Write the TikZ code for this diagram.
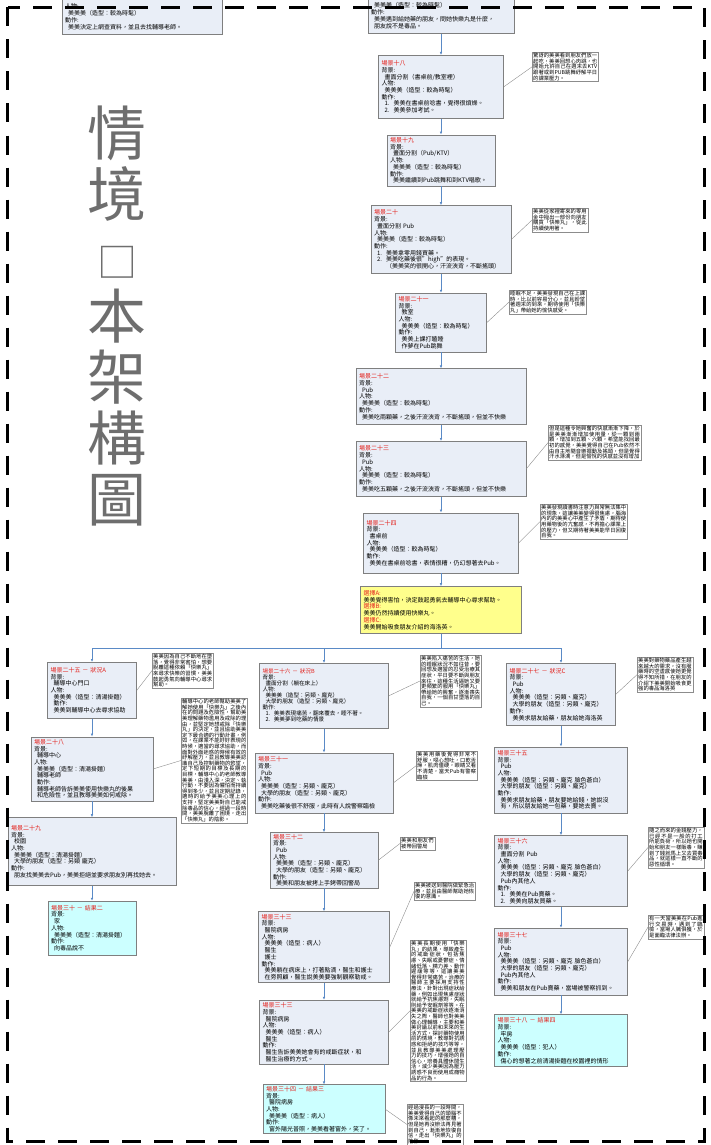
\documentclass[tikz,border=0pt]{standalone}
\usepackage{fontspec}
\setmainfont{Noto Sans CJK TC}
\usepackage{tikz}
\usetikzlibrary{positioning}
\usetikzlibrary{arrows.meta}
\XeTeXlinebreaklocale "zh"
\XeTeXlinebreakskip = 0pt plus 1pt
\definecolor{scene-fill}{HTML}{E9EEF7}
\definecolor{scene-edge}{HTML}{7F7F7F}
\definecolor{end-fill}{HTML}{CCFFFF}
\definecolor{pick-fill}{HTML}{FFFF8C}
\definecolor{flow-blue}{HTML}{5A8AC6}
\definecolor{memo-edge}{HTML}{8C8C8C}
\definecolor{head-red}{HTML}{E3211C}
\definecolor{title-gray}{HTML}{6E6E6E}
\newcommand{\scenefont}{\fontsize{6}{6.7}\selectfont}
\newcommand{\memofont}{\fontsize{5.3}{5.6}\selectfont}
\newcommand{\scn}[1]{\textcolor{head-red}{#1}}
\newcommand{\ind}{\hspace*{3pt}}
\tikzset{dims/.style 2 args={text width=#1, minimum height=#2}}

\begin{document}
\begin{tikzpicture}[x=1pt, y=-1pt, >=latex]

  % Global Style Definitions
  \tikzset{
    scene/.style={draw=scene-edge, fill=scene-fill, line width=0.6pt, align=left, anchor=north, inner xsep=3pt, inner ysep=1.5pt, font=\scenefont},
    tight/.style={font=\fontsize{5.6}{6}\selectfont},
    ending/.style={scene, fill=end-fill},
    pick/.style={scene, fill=pick-fill},
    memo/.style={draw=memo-edge, line width=0.4pt, fill=white, anchor=north west, inner sep=1pt, align=justify, font=\memofont},
    flow/.style={draw=flow-blue, line width=0.6pt, -{Latex[length=3pt, width=2.6pt]}},
    tie/.style={draw=memo-edge, line width=0.4pt}
  }
  \useasboundingbox (0,0) rectangle (711,1145);

  % Title column
  \node[font=\fontsize{59}{61}\selectfont, text=title-gray, align=center, inner sep=0pt] (title) at (117,316)
    {情\\境\\{\fontsize{40}{61}\selectfont □}\\本\\架\\構\\圖};

  % Scenes cut by the page top
  \node[scene, anchor=south, dims={154pt}{36pt}] (intro) at (142,35)
    {人物:\\\ind 美美美（造型：較為時髦）\\動作:\\\ind 美美決定上網查資料，並且去找輔導老師。};
  \node[scene, anchor=south, dims={140pt}{36pt}] (meet) at (441,34)
    {\ind 美美美（造型：較為時髦）\\動作:\\\ind 美美遇到給她藥的朋友，問她快樂丸是什麼，\\\ind 朋友說不是毒品。};

  % Main column
  \node[scene, dims={119pt}{63pt}, below=21pt of meet] (s18)
    {\scn{場景十八}\\背景:\\\ind 畫面分割（書桌前/教室裡）\\人物:\\\ind 美美美（造型：較為時髦）\\動作:\\\ind 1.~~美美在書桌前唸書，覺得很煩燥。\\\ind 2.~~美美參加考試。};
  \node[scene, dims={102pt}{51pt}, below=16pt of s18] (s19)
    {\scn{場景十九}\\背景:\\\ind 畫面分割（Pub/KTV）\\人物:\\\ind 美美美（造型：較為時髦）\\動作:\\\ind 美美繼續到Pub跳舞和到KTV唱歌。};
  \node[scene, dims={134pt}{68pt}, below=19pt of s19] (s20)
    {\scn{場景二十}\\背景:\\\ind 畫面分割 Pub\\人物:\\\ind 美美美（造型：較為時髦）\\動作:\\\ind 1.~~美美拿零用錢買藥。\\\ind 2.~~美美吃藥後很"high"的表現。\\\hspace*{12pt}（美美笑的很開心，汗流浹背，不斷搖頭）};
  \node[scene, dims={85pt}{59pt}, below=19pt of s20] (s21)
    {\scn{場景二十一}\\背景:\\\ind 教室\\人物:\\\ind 美美美（造型：較為時髦）\\動作:\\\ind 美美上課打瞌睡\\\ind 作夢在Pub跳舞};
  \node[scene, dims={164pt}{56pt}, below=16pt of s21] (s22)
    {\scn{場景二十二}\\背景:\\\ind Pub\\人物:\\\ind 美美美（造型：較為時髦）\\動作:\\\ind 美美吃兩顆藥，之後汗流浹背，不斷搖頭，但並不快樂};
  \node[scene, dims={164pt}{55pt}, below=16pt of s22] (s23)
    {\scn{場景二十三}\\背景:\\\ind Pub\\人物:\\\ind 美美美（造型：較為時髦）\\動作:\\\ind 美美吃五顆藥，之後汗流浹背，不斷搖頭，但並不快樂};
  \node[scene, dims={149pt}{60pt}, below=16pt of s23] (s24)
    {\scn{場景二十四}\\背景:\\\ind 書桌前\\人物:\\\ind 美美美（造型：較為時髦）\\動作:\\\ind 美美在書桌前唸書，表情很糟，仍幻想著去Pub。};
  \node[pick, dims={155pt}{47pt}, below=13pt of s24] (choice)
    {\scn{選擇A:}\\美美覺得害怕，決定鼓起勇氣去輔導中心尋求幫助。\\\scn{選擇B:}\\美美仍然持續使用快樂丸。\\\scn{選擇C:}\\美美開始吸食朋友介紹的海洛英。};
  \coordinate[below=14pt of choice] (fork);

  % Branch A
  \node[scene, dims={83pt}{56pt}] (s25) at (92,662)
    {\scn{場景二十五 － 狀況A}\\背景:\\\ind 輔導中心門口\\人物:\\\ind 美美美（造型：清湯掛麵）\\\ind 動作:\\\ind 美美到輔導中心去尋求協助};
  \node[scene, dims={116pt}{64pt}, below=18pt of s25] (s28)
    {\scn{場景二十八}\\背景:\\\ind 輔導中心\\人物:\\\ind 美美美（造型：清湯掛麵）\\\ind 輔導老師\\\ind 動作:\\\ind 輔導老師告訴美美使用快樂丸的後果\\\ind 和危險性，並且教導美美如何戒除。};
  \node[scene, dims={162pt}{68pt}, below=16pt of s28] (s29)
    {\scn{場景二十九}\\背景:\\\ind 校園\\人物:\\\ind 美美美（造型：清湯掛麵）\\\ind 大學的朋友（造型：另類 龐克）\\動作:\\\ind 朋友找美美去Pub，美美拒絕並要求朋友別再找她去。};
  \node[ending, dims={82pt}{54pt}, below=15pt of s29] (s30)
    {\scn{場景三十 － 結果二}\\背景:\\\ind 家\\人物:\\\ind 美美美（造型：清湯掛麵）\\動作:\\\ind 向毒品說不};

  % Branch B
  \node[scene, tight, dims={123pt}{65pt}] (s26) at (324,663)
    {\scn{場景二十六 － 狀況B}\\背景:\\\ind 畫面分割（躺在床上）\\人物:\\\ind 美美美（造型：另類、龐克）\\\ind 大學的朋友（造型：另類、龐克）\\動作:\\\ind 1.~~美美表現痛苦，翻來覆去，睡不著。\\\ind 2.~~美美夢到吃藥的情景};
  \node[scene, dims={132pt}{60pt}, below=24pt of s26] (s31)
    {\scn{場景三十一}\\背景:\\\ind Pub\\人物:\\\ind 美美美（造型：另類、龐克）\\\ind 大學的朋友（造型：另類、龐克）\\動作:\\\ind 美美吃藥後很不舒服，此時有人說警察臨檢};
  \node[scene, dims={102pt}{55pt}, below=19pt of s31] (s32)
    {\scn{場景三十二}\\背景:\\\ind Pub\\人物:\\\ind 美美美（造型：另類、龐克）\\\ind 大學的朋友（造型：另類、龐克）\\動作:\\\ind 美美和朋友被拷上手銬帶回警局};
  \node[scene, dims={125pt}{71pt}, below=23pt of s32] (s33)
    {\scn{場景三十三}\\背景:\\\ind 醫院病房\\人物:\\\ind 美美美（造型：病人）\\\ind 醫生\\\ind 護士\\動作:\\\ind 美美躺在病床上，打著點滴，醫生和護士\\\ind 在旁照顧，醫生說美美要強制觀察勒戒。};
  \node[scene, dims={123pt}{64pt}, below=17pt of s33] (s33b)
    {\scn{場景三十三}\\背景:\\\ind 醫院病房\\人物:\\\ind 美美美（造型：病人）\\\ind 醫生\\動作:\\\ind 醫生告訴美美她會有的戒斷症狀，和\\\ind 醫生治療的方式。};
  \node[ending, dims={116pt}{49pt}, below=20pt of s33b] (s34)
    {\scn{場景三十四 － 結果三}\\背景:\\\ind 醫院病房\\人物:\\\ind 美美美（造型：病人）\\動作:\\\ind 窗外陽光普照，美美看著窗外，笑了。};

  % Branch C
  \node[scene, dims={103pt}{62pt}] (s27) at (561,663)
    {\scn{場景二十七 － 狀況C}\\背景:\\\ind Pub\\人物:\\\ind 美美美（造型：另類、龐克）\\\ind 大學的朋友（造型：另類、龐克）\\動作:\\\ind 美美求朋友給藥，朋友給她海洛英};
  \node[scene, dims={127pt}{66pt}, below=21pt of s27] (s35)
    {\scn{場景三十五}\\背景:\\\ind Pub\\人物:\\\ind 美美美（造型：另類、龐克 臉色蒼白）\\\ind 大學的朋友（造型：另類、龐克）\\動作:\\\ind 美美求朋友給藥，朋友要她給錢，她說沒\\\ind 有，所以朋友給她一包藥，要她去賣。};
  \node[scene, dims={127pt}{71pt}, below=22pt of s35] (s36)
    {\scn{場景三十六}\\背景:\\\ind 畫面分割 Pub\\人物:\\\ind 美美美（造型：另類、龐克 臉色蒼白）\\\ind 大學的朋友（造型：另類、龐克）\\\ind Pub內其他人\\動作:\\\ind 1.~~美美在Pub賣藥。\\\ind 2.~~美美向朋友買藥。};
  \node[scene, dims={127pt}{67pt}, below=21pt of s36] (s37)
    {\scn{場景三十七}\\背景:\\\ind Pub\\人物:\\\ind 美美美（造型：另類、龐克 臉色蒼白）\\\ind 大學的朋友（造型：另類、龐克）\\\ind Pub內其他人\\動作:\\\ind 美美和朋友在Pub賣藥，當場被警察抓到。};
  \node[ending, dims={127pt}{52pt}, below=19pt of s37] (s38)
    {\scn{場景三十八 － 結果四}\\背景:\\\ind 牢房\\人物:\\\ind 美美美（造型：犯人）\\動作:\\\ind 傷心的想著之前清湯掛麵在校園裡的情形};

  % Side notes
  \node[memo, text width=64pt] (m18) at (532,52) {驚訝的美美看到朋友們放一起吃，美美回想心肉跳，也開始允許自己在週末去KTV跟著或到PUB跳舞紓解平日的課業壓力。};
  \node[memo, text width=53.5pt] (m20) at (532,208) {美美從家裡寄來的零用金中撥出一部份向朋友購買「快樂丸」，從此持續使用著。};
  \node[memo, text width=75pt] (m21) at (509,290) {睡眠不足，美美發現自己在上課時，比以前容易分心，並且盼望著週末的到來，期待使用「快樂丸」帶給她的愉快感受。};
  \node[memo, text width=90.6pt] (m23) at (548,425) {但是這種令她興奮的快感漸漸下降，於是美美漸漸增加使用量，從一顆到兩顆，增加到五顆、六顆，希望能找回最初的感覺，美美覺得自己在Pub依然不由自主地隨音樂擺動及搖頭，但是覺得汗水淋漓，但是愉悅的快感並沒有增加};
  \node[memo, text width=85pt] (m24) at (540,504) {美美發現讀書時注意力與常無法集中的現象，這讓美美變得很焦慮，腦海內的的美美心中產生了矛盾，期待使用藥物後的亢奮感，不再擔心課業上的壓力，但又期待著美美能早日回復自我。};
  \node[memo, text width=59pt] (m25) at (152,653) {美美因為自己不斷地在墮落，覺得非常害怕，想要脫離這種依賴「快樂丸」來尋求快樂的習慣，美美鼓起勇氣向輔導中心尋求幫助。};
  \node[memo, text width=64.1pt] (m28) at (181,698) {輔導中心的老師幫助美美了解她使用「快樂丸」之後內在的問題及危險性，幫助美美理解藥物濫用及戒除的理由，並堅定她想戒除「快樂丸」的決定，並且協助美美定下最合適的行動計畫，例如，在課業不能好好表現的時候，適當的尋求協助，而面對外面迷惑的時候有效的紓解壓力，並且教導美美認識自己及控制藥物的慾望，定下短期的目標及長期的目標，輔導中心的老師教導美美，由淺入深，決定、執行動，不要因為懼怕而持續得到多少，並且定期記錄，適時的給予美美心理上的支持，堅定美美對自己能戒除毒品的信心，經過一段時間，美美脫離了困境，走出「快樂丸」的陰影。};
  \node[memo, text width=59pt] (m26) at (420,655) {美美陷入痛苦的生活，她的睡眠狀況不如往昔，要回想及適當的忍受治療其症狀，平日要不斷與朋友來往，這種生活逼她又要更頻繁的服用「快樂丸」帶給她的興奮，逐漸喪失自我，一個自甘墮落的自己。};
  \node[memo, text width=59pt] (m31) at (416,751) {美美用藥後覺得非常不舒服，噁心想吐，口乾舌燥，肌肉僵硬，眼睛又看不清楚，當天Pub有警察臨檢};
  \node[memo, text width=32.5pt] (m32) at (400,837) {美美和朋友們被帶回警局};
  \node[memo, text width=59pt] (m33) at (414,882) {美美被送到醫院做緊急治療，並且由醫師幫助她恢復的意識。};
  \node[memo, text width=53.5pt] (m33b) at (410,940) {美美長期使用「快樂丸」的結果，導致產生的戒斷症狀，包括焦慮、失眠或憂鬱症、情緒低落、精力差、動作遲緩等等，這讓美美覺得非常痛苦，治療的醫師主要採用支持性療法，針對出現症狀給藥，例如出現焦慮症狀就給予抗焦慮劑，失眠則給予安眠劑等等。在美美的戒斷症狀逐漸消失之際，醫師也對美美做心理輔導，主要和美美討論以前和未來的生活方式，探討藥物使用前的情境，教導對抗誘惑和拒絕的技巧等等，並且教導美美處理壓力的技巧，增強她的自信心，培養具體休閒生活，減少美美因為壓力誘惑不良而使用成癮物品的行為。};
  \node[memo, text width=53.5pt] (m34) at (407,1104) {經過漫長的一段時間，美美覺得自己的頭腦不像未來看起的那麼糟，但是她再沒辦法再見著到自己，漸漸地恢復自信，走出「快樂丸」的陰影。};
  \node[memo, text width=53.5pt] (m27) at (637,657) {美美對藥物藥品產生越來越大的需求，沒有服藥時的空虛感使她更覺得不知所措，在朋友的介紹下美美開始吸食更強的毒品海洛英};
  \node[memo, text width=53.5pt] (m36) at (648,827) {隨之而來的金錢壓力，已經不是一般的打工所能負荷，所以她也開始和朋友一樣販毒，賺到了錢就馬上又去買毒品，就這樣一直不斷的惡性循環。};
  \node[memo, text width=53.5pt] (m37) at (648,915) {有一天當美美在Pub進行交易時，遇到了臨檢，當場人贓俱獲，於是面臨法律法辦。};

  % Story flow
  \draw[flow] (meet) -- (s18);
  \draw[flow] (s18) -- (s19);
  \draw[flow] (s19) -- (s20);
  \draw[flow] (s20) -- (s21);
  \draw[flow] (s21) -- (s22);
  \draw[flow] (s22) -- (s23);
  \draw[flow] (s23) -- (s24);
  \draw[flow] (s24) -- (choice);
  \draw[flow] (choice) -- (fork) -| (s25);
  \draw[flow] (fork) -| (s26);
  \draw[flow] (fork) -| (s27);
  \draw[flow] (s25) -- (s28);
  \draw[flow] (s28) -- (s29);
  \draw[flow] (s29) -- (s30);
  \draw[flow] (s26) -- (s31);
  \draw[flow] (s31) -- (s32);
  \draw[flow] (s32) -- (s33);
  \draw[flow] (s33) -- (s33b);
  \draw[flow] (s33b) -- (s34);
  \draw[flow] (s27) -- (s35);
  \draw[flow] (s35) -- (s36);
  \draw[flow] (s36) -- (s37);
  \draw[flow] (s37) -- (s38);

  % Notes tied to their scenes
  \draw[tie] (s18.east) -- (m18.west);
  \draw[tie] (s20.east) -- (m20.west);
  \draw[tie] (s21.east) -- (m21.west);
  \draw[tie] (s23.east) -- (m23.west);
  \draw[tie] (s24.east) -- (m24.west);
  \draw[tie] (s25.east) -- (m25.west);
  \draw[tie] (s28.east) -- (m28.west);
  \draw[tie] (s26.east) -- (m26.west);
  \draw[tie] (s31.east) -- (m31.west);
  \draw[tie] (s32.east) -- (m32.west);
  \draw[tie] (s33.east) -- (m33.west);
  \draw[tie] (s33b.east) -- (m33b.west);
  \draw[tie] (s34.east) -- (m34.west);
  \draw[tie] (s27.east) -- (m27.west);
  \draw[tie] (s36.east) -- (m36.west);
  \draw[tie] (s37.east) -- (m37.west);

  % Page frame
  \draw[line width=3pt, dash pattern=on 19pt off 13pt] (7.5,7.5) rectangle (704,1141);

\end{tikzpicture}
\end{document}
